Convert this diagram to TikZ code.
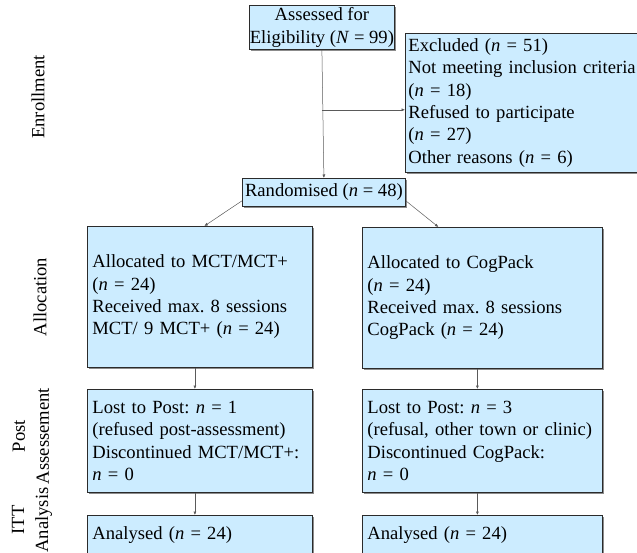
\documentclass[tikz,border=0pt]{standalone}
\usepackage{fontspec}
\setmainfont{Liberation Serif}
\usepackage{tikz}
\usetikzlibrary{arrows.meta,shadows}
\frenchspacing
\definecolor{boxfill}{HTML}{CCECFF}
\definecolor{edge}{HTML}{2B2B2B}
\definecolor{link}{HTML}{5A5A5A}
\tikzset{
  box/.style={draw=edge, fill=boxfill, line width=0.8pt, inner xsep=5pt, inner ysep=0pt,
    anchor=north west, align=left, font=\fontsize{18.6}{22.4}\selectfont,
    drop shadow={shadow xshift=1.6pt, shadow yshift=-1.6pt, fill=black!45, opacity=1}},
  cbox/.style={box, align=center, inner xsep=0pt},
  arr/.style={draw=link, line width=0.5pt, -{Latex[length=3.5pt,width=3pt]}},
  stage/.style={rotate=90, align=center, font=\fontsize{18.6}{24}\selectfont}
}

\begin{document}
\begin{tikzpicture}[x=1pt,y=-1pt]
  \clip (0,0) rectangle (637,553);

  % enrollment
  \node[cbox, minimum width=145pt, minimum height=44pt] (assess) at (249,5)
    {Assessed for\\Eligibility (\textit{N} = 99)};
  \node[box, inner xsep=3pt, text width=226pt, minimum height=139pt] (excl) at (405,33)
    {Excluded (\textit{n} = 51)\\\mbox{Not meeting inclusion criteria}\\(\textit{n} = 18)\\Refused to participate\\(\textit{n} = 27)\\Other reasons (\textit{n} = 6)};
  \node[cbox, minimum width=163pt, minimum height=28pt] (rand) at (242,178)
    {Randomised (\textit{n} = 48)};

  % allocation
  \node[box, text width=215pt, minimum height=141pt] (alloc1) at (87,226)
    {Allocated to MCT/MCT+\\(\textit{n} = 24)\\Received max. 8 sessions\\MCT/ 9 MCT+ (\textit{n} = 24)};
  \node[box, text width=230pt, minimum height=141pt] (alloc2) at (362,227)
    {Allocated to CogPack\\(\textit{n} = 24)\\Received max. 8 sessions\\CogPack (\textit{n} = 24)};

  % post assessment
  \node[box, text width=215pt, minimum height=103pt] (post1) at (87,389)
    {Lost to Post: \textit{n} = 1\\(refused post-assessment)\\Discontinued MCT/MCT+:\\\textit{n} = 0};
  \node[box, text width=230pt, minimum height=103pt] (post2) at (362,389)
    {Lost to Post: \textit{n} = 3\\(refusal, other town or clinic)\\Discontinued CogPack:\\\textit{n} = 0};

  % analysis
  \node[box, text width=215pt, minimum height=40pt] (ana1) at (87,515)
    {Analysed (\textit{n} = 24)};
  \node[box, text width=230pt, minimum height=40pt] (ana2) at (362,515)
    {Analysed (\textit{n} = 24)};

  % connectors
  \draw[arr] (assess.south) -- (rand.north);
  \path (assess.south) ++(0,60) coordinate (split);
  \draw[arr] (split) -- (split -| excl.west);
  \draw[arr] ([yshift=6pt]rand.south west) -- ([xshift=4.5pt]alloc1.north);
  \draw[arr] ([yshift=6pt]rand.south east) -- ([xshift=-44pt]alloc2.north);
  \draw[arr] ([xshift=-5pt]alloc1.south) -- ([xshift=-5pt]post1.north);
  \draw[arr] ([xshift=-5pt]alloc2.south) -- ([xshift=-5pt]post2.north);
  \draw[arr] ([xshift=-5pt]post1.south) -- ([xshift=-5pt]ana1.north);
  \draw[arr] ([xshift=-5pt]post2.south) -- ([xshift=-5pt]ana2.north);

  % stage labels
  \node[stage] (enrol) at (38,97) {Enrollment};
  \node[stage] (alloc) at (40,297) {Allocation};
  \node[stage] (post) at (31,436) {Post\\Assessement};
  \node[stage] (itt) at (32,520) {ITT\\Analysis};
\end{tikzpicture}
\end{document}
